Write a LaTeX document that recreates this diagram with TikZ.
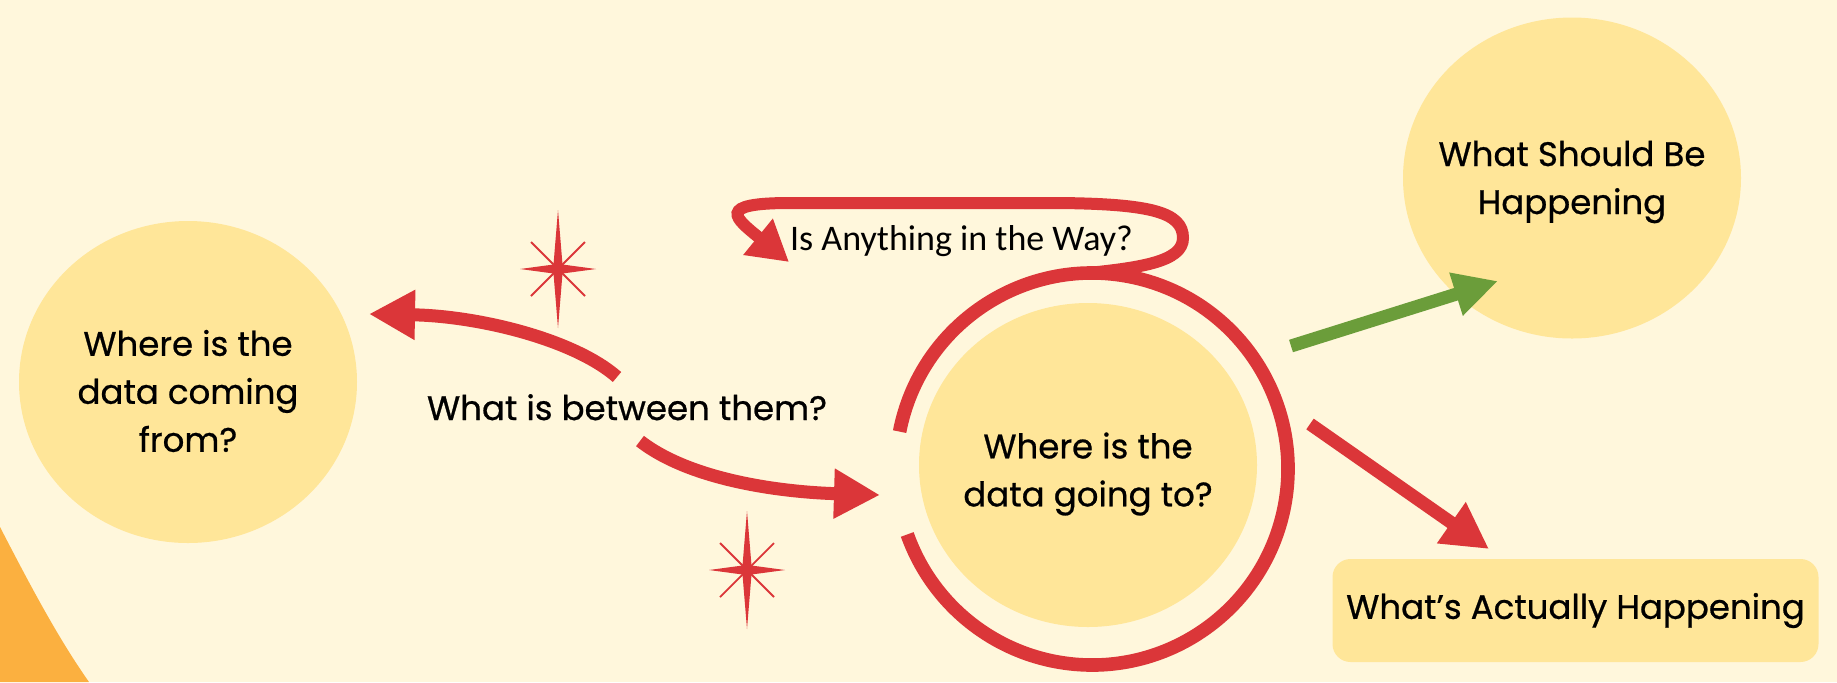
\documentclass[tikz,border=0pt]{standalone}
\usepackage{fontspec}
\setmainfont{Poppins}[FakeBold=0.7]
\newfontfamily\calibfont{Carlito}
\usetikzlibrary{shapes.geometric,arrows.meta}
\definecolor{bgc}{HTML}{FFF7DC}
\definecolor{bubblec}{HTML}{FFE699}
\definecolor{redc}{HTML}{DB3639}
\definecolor{greenc}{HTML}{6B9D3A}
\definecolor{orangec}{HTML}{FBB040}
\tikzset{
  bubble/.style={ellipse, fill=bubblec, inner sep=0pt},
  bubbletext/.style={align=center, inner sep=0pt, font=\fontsize{17}{24}\selectfont},
  tagbox/.style={rectangle, rounded corners=9pt, fill=bubblec, align=center, inner sep=0pt, font=\fontsize{17}{24}\selectfont},
  plaintext/.style={align=center, inner sep=0pt, font=\fontsize{17}{24}\selectfont},
  redflow/.style={draw=redc, line width=6.5pt, -{Triangle[length=23pt,width=23.5pt]}},
  loopflow/.style={draw=redc, line width=6pt, -{Triangle[length=20pt,width=22pt]}},
  greenflow/.style={draw=greenc, line width=6.5pt, -{Triangle[length=22pt,width=21pt]}},
  ringline/.style={draw=redc, line width=6.8pt},
  sparkle/.pic={
    \fill[redc] (0,-59) -- (4.5,-4.5) -- (38,0) -- (4.5,4.5) -- (0,59) -- (-4.5,4.5) -- (-38,0) -- (-4.5,-4.5) -- cycle;
    \draw[redc, line width=0.9pt] (-27,-27) -- (27,27) (-27,27) -- (27,-27);
  }
}
\begin{document}
\begin{tikzpicture}[x=0.5pt,y=-0.5pt]
\useasboundingbox (0,0) rectangle (1837,682);
\fill[bgc] (0,0) rectangle (1837,682);
\fill[orangec] (0,527) .. controls (30,585) and (58,638) .. (89,682) -- (0,682) -- cycle;

% nodes
\node[bubble, minimum width=169pt, minimum height=161pt] (from) at (188,382) {};
\node[bubbletext] (fromtext) at ([yshift=-4.5pt]from.center) {Where is the\\data coming\\from?};
\node[bubble, minimum width=169pt, minimum height=162pt] (going) at (1088,465) {};
\node[bubbletext] (goingtext) at ([yshift=-4.5pt]going.center) {Where is the\\data going to?};
\node[bubble, minimum width=169pt, minimum height=160.5pt] (should) at (1572,178) {};
\node[bubbletext] (shouldtext) at ([yshift=-2pt]should.center) {What Should Be\\Happening};
\node[tagbox, minimum width=243pt, minimum height=51.5pt] (actual) at (1575.5,610.5) {What’s Actually Happening};
\node[plaintext, anchor=base] (between) at (627,420) {What is between them?};
\node[anchor=base, inner sep=0pt, font=\calibfont\fontsize{18}{22}\selectfont] (way) at (961.5,250) {Is Anything in the Way?};

% sparkles
\pic at (558,269) {sparkle};
\pic at (747,570) {sparkle};

% connector ends
\coordinate (a1s) at (617,377);
\coordinate (a1e) at (369,314);
\coordinate (a2s) at (640,441);
\coordinate (a2e) at (880,495);
\coordinate (ringc) at (1092,469);
\coordinate (loops) at (1078,274);
\coordinate (loope) at (789,262);
\coordinate (gs) at (1291,346);
\coordinate (ge) at (1498,281);
\coordinate (rs) at (1310,424);
\coordinate (re) at (1489,549);

% ring around the destination
\draw[ringline] ([shift={(191:196)}]ringc) arc[start angle=191, end angle=520.5, radius=196];

% connectors
\draw[redflow] (a1s) .. controls (575,340) and (480,316) .. (a1e);
\draw[redflow] (a2s) .. controls (690,480) and (780,492) .. (a2e);
\draw[loopflow] (loops) .. controls (1140,268) and (1183,262) .. (1183,238)
  .. controls (1183,212) and (1150,204) .. (1060,203) -- (790,203)
  .. controls (715,203) and (735,218) .. (loope);
\draw[greenflow] (gs) -- (ge);
\draw[redflow] (rs) -- (re);
\end{tikzpicture}
\end{document}
